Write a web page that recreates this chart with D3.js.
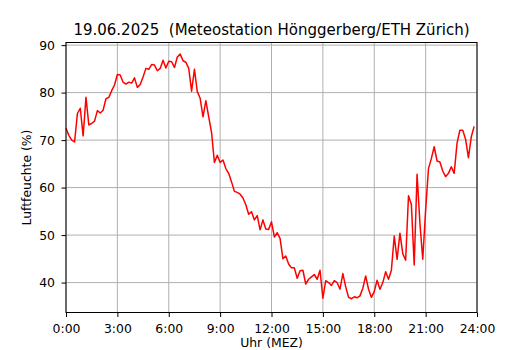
<!DOCTYPE html>
<html>
<head>
<meta charset="utf-8">
<script src="https://cdn.jsdelivr.net/npm/d3@7"></script>
<style>
  html, body { margin: 0; padding: 0; background: #fff; }
  svg { display: block; font-family: "DejaVu Sans", sans-serif; }
</style>
</head>
<body>
<svg id="chart" width="530" height="350"></svg>
<script>
// Data: relative humidity, 10-minute steps starting at 0:00
const stepMinutes = 10;
const humidity = [
  72.5, 71.0, 70.0, 69.6, 75.6, 76.7, 70.9, 79.0, 73.2, 73.5,
  74.0, 76.2, 75.7, 76.3, 78.7, 79.0, 80.4, 81.6, 83.8, 83.7,
  82.2, 81.8, 82.2, 82.0, 83.1, 81.1, 81.7, 83.3, 85.1, 84.9,
  85.9, 85.8, 84.6, 85.1, 86.8, 85.2, 86.6, 86.5, 85.3, 87.5,
  88.1, 86.7, 86.4, 85.1, 80.3, 84.9, 80.2, 78.8, 74.9, 78.3,
  74.9, 71.6, 65.3, 66.8, 65.3, 65.8, 64.0, 63.0, 61.2, 59.2,
  59.0, 58.6, 57.8, 56.4, 54.4, 54.9, 53.2, 54.1, 51.1, 53.2,
  51.3, 51.2, 52.8, 49.6, 50.5, 49.3, 45.0, 45.6, 43.9, 43.1,
  43.1, 40.9, 42.5, 42.6, 39.7, 40.7, 41.2, 41.7, 40.7, 42.6,
  36.7, 40.4, 40.0, 39.4, 40.4, 40.0, 38.6, 41.9, 39.1, 36.9,
  36.6, 37.0, 36.8, 37.2, 38.8, 41.4, 38.6, 36.9, 38.1, 40.5,
  38.6, 40.0, 42.3, 40.7, 42.6, 49.8, 44.9, 50.4, 46.1, 44.7,
  58.3, 56.5, 43.7, 62.8, 52.5, 44.9, 55.3, 64.0, 66.1, 68.6,
  65.6, 65.4, 63.5, 62.3, 63.0, 64.4, 63.0, 69.3, 72.1, 72.1,
  70.2, 66.3, 70.7, 72.9
];
const xTickHours = [0, 3, 6, 9, 12, 15, 18, 21, 24];
const xTickLabels = ["0:00", "3:00", "6:00", "9:00", "12:00", "15:00", "18:00", "21:00", "24:00"];
const yTicks = [40, 50, 60, 70, 80, 90];
const yLimits = [33.7, 90.55];
const titleText = "19.06.2025  (Meteostation Hönggerberg/ETH Zürich)";
const xLabel = "Uhr (MEZ)";
const yLabel = "Luftfeuchte (%)";

const margin = { left: 66, right: 53, top: 42.5, bottom: 37.5 };
const W = 530, H = 350;
const svg = d3.select("#chart");

const x = d3.scaleLinear().domain([0, 24]).range([margin.left, W - margin.right]);
const y = d3.scaleLinear().domain(yLimits).range([H - margin.bottom, margin.top]);

const series = humidity.map((v, i) => ({ h: i * stepMinutes / 60, v }));

// grid
const grid = svg.append("g");
grid.selectAll("line.gx").data(xTickHours).join("line")
  .attr("x1", d => x(d)).attr("x2", d => x(d))
  .attr("y1", margin.top).attr("y2", H - margin.bottom)
  .attr("stroke", "#b0b0b0").attr("stroke-width", 1);
grid.selectAll("line.gy").data(yTicks).join("line")
  .attr("x1", margin.left).attr("x2", W - margin.right)
  .attr("y1", d => y(d)).attr("y2", d => y(d))
  .attr("stroke", "#b0b0b0").attr("stroke-width", 1);

// line
svg.append("path")
  .datum(series)
  .attr("fill", "none")
  .attr("stroke", "#ff0000")
  .attr("stroke-width", 1.5)
  .attr("stroke-linejoin", "round")
  .attr("d", d3.line().x(d => x(d.h)).y(d => y(d.v)));

// axes
const xAxis = d3.axisBottom(x).tickValues(xTickHours)
  .tickFormat((d, i) => xTickLabels[i]).tickSize(4.5).tickPadding(6.7);
const gx = svg.append("g").attr("transform", `translate(0,${H - margin.bottom})`).call(xAxis);
const yAxis = d3.axisLeft(y).tickValues(yTicks).tickSize(4.5).tickPadding(6.5);
const gy = svg.append("g").attr("transform", `translate(${margin.left},0)`).call(yAxis);
[gx, gy].forEach(g => {
  g.select(".domain").remove();
  g.selectAll(".tick line").attr("stroke", "#000").attr("stroke-width", 1);
  g.selectAll(".tick text").attr("fill", "#000")
    .style("font-family", "DejaVu Sans, sans-serif").style("font-size", "12.4px");
});

// frame
svg.append("rect")
  .attr("x", margin.left).attr("y", margin.top)
  .attr("width", W - margin.left - margin.right)
  .attr("height", H - margin.top - margin.bottom)
  .attr("fill", "none").attr("stroke", "#000").attr("stroke-width", 1);

// texts
svg.append("text")
  .attr("x", (margin.left + W - margin.right) / 2).attr("y", 34.5)
  .attr("text-anchor", "middle").style("font-size", "15px").style("white-space", "pre")
  .attr("fill", "#000")
  .text(titleText);
svg.append("text")
  .attr("x", (margin.left + W - margin.right) / 2).attr("y", 347.4)
  .attr("text-anchor", "middle").style("font-size", "12.4px").attr("fill", "#000")
  .text(xLabel);
svg.append("text")
  .attr("transform", `translate(31,${(margin.top + H - margin.bottom) / 2}) rotate(-90)`)
  .attr("text-anchor", "middle").style("font-size", "12.4px").attr("fill", "#000")
  .text(yLabel);
</script>
</body>
</html>
